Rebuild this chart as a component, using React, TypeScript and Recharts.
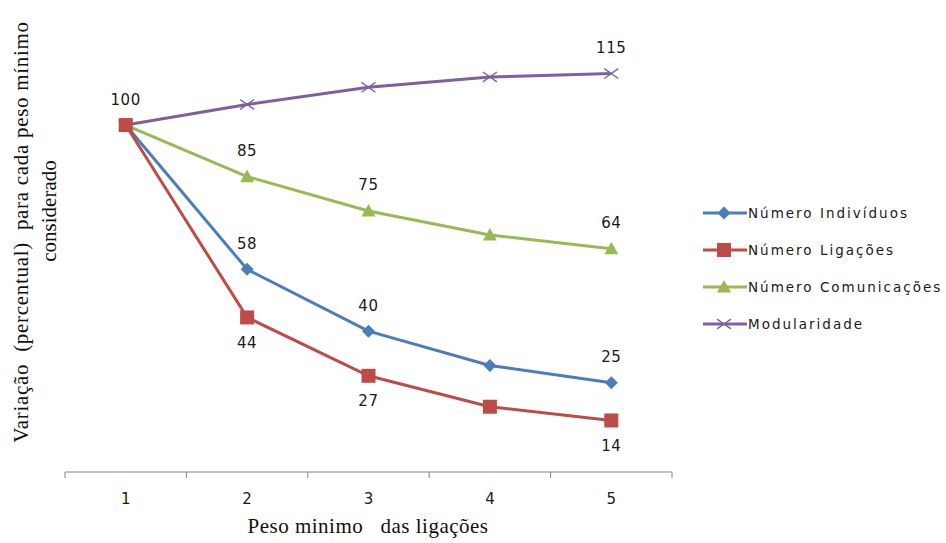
import { LineChart, Line, XAxis, YAxis } from "recharts";

const CATEGORIES = ["1", "2", "3", "4", "5"];
const INDIVIDUOS = [100, 58, 40, 30, 25];
const LIGACOES = [100, 44, 27, 18, 14];
const COMUNICACOES = [100, 85, 75, 68, 64];
const MODULARIDADE = [100, 106, 111, 114, 115];

// where each series shows a value label: "up", "down" or null
const IND_LABELS = [null, "up", "up", null, "up"];
const LIG_LABELS = [null, "down", "down", null, "down"];
const COM_LABELS = [null, "up", "up", null, "up"];
const MOD_LABELS = ["up", null, null, null, "up"];

const BLUE = "#4a7ebb";
const RED = "#be4b48";
const GREEN = "#98b954";
const PURPLE = "#7d60a0";

const LABEL_FONT = "'DejaVu Sans', Verdana, sans-serif";
const TITLE_FONT = "'Liberation Serif', 'Times New Roman', serif";

const data = CATEGORIES.map((c, i) => ({
  peso: c,
  ind: INDIVIDUOS[i],
  lig: LIGACOES[i],
  com: COMUNICACOES[i],
  mod: MODULARIDADE[i],
}));

const BAND = 121.4;

function Marker({ kind, cx, cy, color }: { kind: string; cx: number; cy: number; color: string }) {
  if (kind === "diamond") {
    const r = 6.5;
    return <path d={`M${cx},${cy - r}L${cx + r},${cy}L${cx},${cy + r}L${cx - r},${cy}Z`} fill={color} />;
  }
  if (kind === "square") {
    const r = 7;
    return <rect x={cx - r} y={cy - r} width={r * 2} height={r * 2} fill={color} />;
  }
  if (kind === "triangle") {
    const r = 7;
    return <path d={`M${cx},${cy - r}L${cx + r},${cy + r * 0.8}L${cx - r},${cy + r * 0.8}Z`} fill={color} />;
  }
  const r = 7;
  return (
    <path
      d={`M${cx - r},${cy - r * 0.7}L${cx + r},${cy + r * 0.7}M${cx - r},${cy + r * 0.7}L${cx + r},${cy - r * 0.7}`}
      stroke={color}
      strokeWidth={1.3}
      fill="none"
    />
  );
}

function makeDot(kind: string, color: string) {
  return (props: any) => (
    <Marker key={`${kind}-${props.index}`} kind={kind} cx={props.cx} cy={props.cy} color={color} />
  );
}

function makeLabel(where: (string | null)[]) {
  return (props: any) => {
    const pos = where[props.index];
    if (!pos) return <g key={`l-${props.index}`} />;
    const y = pos === "up" ? props.y - 25 : props.y + 26;
    return (
      <text
        key={`l-${props.index}`}
        x={props.x}
        y={y}
        textAnchor="middle"
        dominantBaseline="middle"
        fontFamily={LABEL_FONT}
        fontSize={15}
        letterSpacing={0.6}
        fill="#1a1a1a"
      >
        {props.value}
      </text>
    );
  };
}

function CategoryTick(props: any) {
  const { x, y, payload, index } = props;
  const last = index === CATEGORIES.length - 1;
  return (
    <g>
      <line x1={x - BAND / 2} y1={y - 8} x2={x - BAND / 2} y2={y - 2} stroke="#868686" />
      {last && <line x1={x + BAND / 2} y1={y - 8} x2={x + BAND / 2} y2={y - 2} stroke="#868686" />}
      <text
        x={x}
        y={y + 24}
        textAnchor="middle"
        fontFamily={LABEL_FONT}
        fontSize={15}
        fill="#1a1a1a"
      >
        {payload.value}
      </text>
    </g>
  );
}

const SERIES = [
  { name: "Número Indivíduos", kind: "diamond", color: BLUE },
  { name: "Número Ligações", kind: "square", color: RED },
  { name: "Número Comunicações", kind: "triangle", color: GREEN },
  { name: "Modularidade", kind: "cross", color: PURPLE },
];

function ChartLegend() {
  return (
    <div style={{ position: "absolute", left: 702, top: 194 }}>
      {SERIES.map((s) => (
        <div key={s.name} style={{ display: "flex", alignItems: "center", height: 37 }}>
          <svg width={46} height={20}>
            <line x1={1} y1={10} x2={45} y2={10} stroke={s.color} strokeWidth={3} />
            <Marker kind={s.kind} cx={22} cy={10} color={s.color} />
          </svg>
          <span
            style={{
              fontFamily: LABEL_FONT,
              fontSize: 13.5,
              letterSpacing: 2,
              color: "#1a1a1a",
              whiteSpace: "nowrap",
            }}
          >
            {s.name}
          </span>
        </div>
      ))}
    </div>
  );
}

export default function App() {
  return (
    <div style={{ position: "absolute", left: 0, top: 0, width: 946, height: 543, background: "#fff" }}>
      <LineChart
        width={946}
        height={543}
        data={data}
        margin={{ top: 22, right: 274, bottom: 41, left: 0 }}
      >
        <XAxis
          dataKey="peso"
          height={30}
          padding={{ left: BAND / 2, right: BAND / 2 }}
          axisLine={{ stroke: "#868686", strokeWidth: 1.2 }}
          tickLine={false}
          tick={<CategoryTick />}
          interval={0}
          label={() => (
            <text
              x={368}
              y={533}
              textAnchor="middle"
              fontFamily={TITLE_FONT}
              fontSize={21}
              letterSpacing={0.5}
              fill="#111"
              style={{ whiteSpace: "pre" }}
            >
              {"Peso minimo   das ligações"}
            </text>
          )}
        />
        <YAxis
          type="number"
          domain={[-1, 130]}
          width={65}
          axisLine={false}
          tickLine={false}
          tick={false}
          label={() => (
            <g>
              <text
                transform="translate(28,232) rotate(-90)"
                textAnchor="middle"
                fontFamily={TITLE_FONT}
                fontSize={21}
                letterSpacing={0.7}
                fill="#111"
                style={{ whiteSpace: "pre" }}
              >
                {"Variação  (percentual)  para cada peso mínimo"}
              </text>
              <text
                transform="translate(56,211) rotate(-90)"
                textAnchor="middle"
                fontFamily={TITLE_FONT}
                fontSize={21}
                fill="#111"
              >
                considerado
              </text>
            </g>
          )}
        />
        <Line
          dataKey="mod"
          name="Modularidade"
          stroke={PURPLE}
          strokeWidth={3}
          dot={makeDot("cross", PURPLE)}
          label={makeLabel(MOD_LABELS)}
          isAnimationActive={false}
        />
        <Line
          dataKey="com"
          name="Número Comunicações"
          stroke={GREEN}
          strokeWidth={3}
          dot={makeDot("triangle", GREEN)}
          label={makeLabel(COM_LABELS)}
          isAnimationActive={false}
        />
        <Line
          dataKey="ind"
          name="Número Indivíduos"
          stroke={BLUE}
          strokeWidth={3}
          dot={makeDot("diamond", BLUE)}
          label={makeLabel(IND_LABELS)}
          isAnimationActive={false}
        />
        <Line
          dataKey="lig"
          name="Número Ligações"
          stroke={RED}
          strokeWidth={3}
          dot={makeDot("square", RED)}
          label={makeLabel(LIG_LABELS)}
          isAnimationActive={false}
        />
      </LineChart>
      <ChartLegend />
    </div>
  );
}
